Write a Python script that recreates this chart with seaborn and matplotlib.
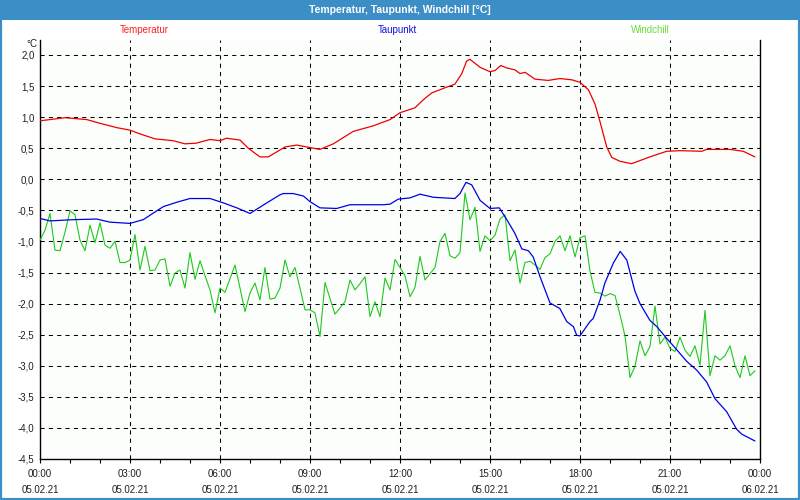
import numpy as np
import pandas as pd
import matplotlib
matplotlib.use("Agg")
import matplotlib.pyplot as plt
import seaborn as sns
from matplotlib.patches import Rectangle
from matplotlib.ticker import MultipleLocator, FixedLocator, FuncFormatter

# ---------------- data ----------------
title = "Temperatur, Taupunkt, Windchill [°C]"
series_names = ["Temperatur", "Taupunkt", "Windchill"]

temp_hours = [0.0, 0.83, 1.56, 2.0, 2.56, 3.0, 3.33, 3.83, 4.44, 4.83, 5.2, 5.67, 6.0, 6.22,
              6.67, 6.94, 7.33, 7.61, 8.17, 8.56, 9.0, 9.33, 9.78, 10.44, 11.11, 11.67, 12.0,
              12.5, 12.78, 13.06, 13.44, 13.83, 14.06, 14.22, 14.33, 14.67, 15.0, 15.17, 15.36,
              15.56, 15.83, 16.0, 16.17, 16.5, 16.94, 17.33, 17.72, 18.0, 18.28, 18.5, 18.67,
              18.89, 19.06, 19.33, 19.72, 20.33, 20.89, 21.33, 22.06, 22.22, 23.0, 23.44, 23.83]
temp_values = [0.94, 0.99, 0.96, 0.90, 0.83, 0.79, 0.73, 0.65, 0.62, 0.57, 0.58, 0.64, 0.62, 0.66,
               0.63, 0.50, 0.36, 0.36, 0.52, 0.55, 0.51, 0.48, 0.57, 0.77, 0.86, 0.96, 1.07,
               1.15, 1.28, 1.39, 1.46, 1.53, 1.70, 1.90, 1.93, 1.80, 1.73, 1.75, 1.83,
               1.79, 1.76, 1.70, 1.72, 1.61, 1.59, 1.62, 1.60, 1.56, 1.44, 1.21, 0.92,
               0.52, 0.35, 0.29, 0.25, 0.36, 0.45, 0.46, 0.45, 0.48, 0.48, 0.45, 0.36]

dew_hours = [0.0, 0.33, 1.11, 1.89, 2.33, 3.0, 3.44, 4.11, 4.56, 5.0, 5.67, 6.11, 6.56, 7.0,
             7.56, 8.0, 8.11, 8.44, 8.78, 9.0, 9.33, 9.89, 10.33, 11.44, 11.67, 11.94, 12.33,
             12.67, 13.11, 13.83, 14.0, 14.2, 14.39, 14.67, 15.0, 15.31, 15.56, 15.83, 16.06,
             16.28, 16.44, 16.67, 17.0, 17.33, 17.56, 17.78, 17.89, 18.0, 18.33, 18.44, 18.67,
             18.83, 19.11, 19.34, 19.56, 19.83, 20.0, 20.33, 20.56, 20.89, 21.22, 21.56, 21.89,
             22.22, 22.5, 22.89, 23.22, 23.39, 23.83]
dew_values = [-0.63, -0.67, -0.65, -0.64, -0.69, -0.71, -0.65, -0.44, -0.37, -0.31, -0.31, -0.38,
              -0.46, -0.55, -0.38, -0.25, -0.23, -0.23, -0.27, -0.36, -0.46, -0.47, -0.41, -0.41,
              -0.40, -0.32, -0.30, -0.24, -0.29, -0.31, -0.23, -0.05, -0.09, -0.34, -0.47, -0.46,
              -0.65, -0.87, -1.12, -1.15, -1.25, -1.57, -1.99, -2.08, -2.29, -2.37, -2.51, -2.52,
              -2.29, -2.24, -1.94, -1.67, -1.35, -1.16, -1.30, -1.80, -2.00, -2.27, -2.37, -2.56,
              -2.74, -2.93, -3.07, -3.26, -3.53, -3.74, -4.02, -4.10, -4.21]

# windchill, sampled every 10 minutes from 00:00
wind_values = [-0.98, -0.82, -0.55, -1.14, -1.15, -0.85, -0.51, -0.57, -0.98, -1.15, -0.74, -1.02,
               -0.70, -1.06, -1.11, -1.00, -1.34, -1.34, -1.30, -0.89, -1.46, -1.08, -1.47, -1.46,
               -1.30, -1.28, -1.72, -1.51, -1.46, -1.75, -1.18, -1.61, -1.31, -1.55, -1.78, -2.15,
               -1.75, -1.82, -1.60, -1.38, -1.75, -2.13, -1.83, -1.67, -1.94, -1.42, -1.93, -1.91,
               -1.75, -1.30, -1.57, -1.42, -1.75, -2.10, -2.10, -2.15, -2.53, -1.66, -1.92, -2.17,
               -2.07, -1.97, -1.62, -1.78, -1.68, -1.57, -2.21, -1.97, -2.21, -1.59, -1.78, -1.29,
               -1.42, -1.55, -1.89, -1.74, -1.24, -1.62, -1.52, -1.42, -1.00, -0.87, -1.23, -1.27,
               -1.18, -0.22, -0.65, -0.45, -1.16, -0.91, -0.99, -0.90, -0.64, -0.57, -1.31, -1.14,
               -1.67, -1.34, -1.32, -1.38, -1.45, -1.26, -1.20, -1.00, -0.91, -1.15, -0.91, -1.25,
               -0.94, -0.91, -1.48, -1.82, -1.83, -1.88, -1.84, -1.87, -2.18, -2.52, -3.19, -3.01,
               -2.60, -2.84, -2.69, -2.04, -2.65, -2.54, -2.72, -2.77, -2.54, -2.75, -2.85, -2.68,
               -2.99, -2.11, -3.16, -2.84, -2.91, -2.84, -2.68, -3.00, -3.19, -2.84, -3.16, -3.08]
wind_hours = list(np.arange(len(wind_values)) / 6.0)

x_tick_hours = [0, 3, 6, 9, 12, 15, 18, 21, 24]
x_tick_labels = ["00:00\n05.02.21", "03:00\n05.02.21", "06:00\n05.02.21", "09:00\n05.02.21",
                 "12:00\n05.02.21", "15:00\n05.02.21", "18:00\n05.02.21", "21:00\n05.02.21",
                 "00:00\n06.02.21"]
y_ticks = [-4.5, -4.0, -3.5, -3.0, -2.5, -2.0, -1.5, -1.0, -0.5, 0.0, 0.5, 1.0, 1.5, 2.0]

# ---------------- style ----------------
sns.set_style("white")
plt.rcParams['font.family'] = ['Liberation Sans', 'DejaVu Sans']

frame_blue = '#3c8fc6'
red = '#ee0000'
blue = '#0000e6'
green = '#1ec81e'
green_text = '#66e033'

fig = plt.figure(figsize=(8, 5), dpi=100)
fig.patch.set_facecolor('white')
ax = fig.add_axes([40 / 800, 41 / 500, 720 / 800, 419 / 500])
ax.set_facecolor('#fcfefc')

df_t = pd.DataFrame({'h': temp_hours, 'v': temp_values})
df_d = pd.DataFrame({'h': dew_hours, 'v': dew_values})
df_w = pd.DataFrame({'h': wind_hours, 'v': wind_values})

sns.lineplot(data=df_w, x='h', y='v', ax=ax, color=green, linewidth=0.8, zorder=3)
sns.lineplot(data=df_d, x='h', y='v', ax=ax, color=blue, linewidth=0.9, zorder=4)
sns.lineplot(data=df_t, x='h', y='v', ax=ax, color=red, linewidth=0.9, zorder=5)

ax.set_xlim(0, 24)
ax.set_ylim(-4.5, 2.24)
ax.set_xlabel('')
ax.set_ylabel('')

ax.xaxis.set_major_locator(FixedLocator(x_tick_hours))
ax.set_xticklabels(x_tick_labels, fontsize=7, linespacing=1.75)
ax.xaxis.set_minor_locator(MultipleLocator(1))
ax.set_yticks(y_ticks)
ax.yaxis.set_major_formatter(FuncFormatter(lambda v, p: f"{v:.1f}".replace('.', ',')))

ax.tick_params(axis='x', which='both', direction='out', length=3, width=0.8,
               color='black', bottom=True, pad=4, labelcolor='#202020')
ax.tick_params(axis='y', which='both', length=0, pad=4, labelsize=7, labelcolor='#202020')

ax.grid(True, which='major', color='black', linestyle=(0, (4, 4)), linewidth=0.75)
ax.set_axisbelow(True)

for side in ['left', 'right', 'bottom']:
    ax.spines[side].set_visible(True)
    ax.spines[side].set_color('black')
    ax.spines[side].set_linewidth(1.0)
ax.spines['top'].set_visible(False)

# title bar and frame
fig.patches.append(Rectangle((0, 1 - 20 / 500), 1, 20 / 500, transform=fig.transFigure,
                             facecolor=frame_blue, edgecolor='none', zorder=0))
fig.patches.append(Rectangle((0, 0), 1, 1, transform=fig.transFigure, fill=False,
                             edgecolor=frame_blue, linewidth=3, zorder=10))
fig.text(0.5, 1 - 10 / 500, title, color='white', fontsize=7.5, fontweight='bold',
         ha='center', va='center')

# series labels
fig.text(144 / 800, 1 - 30 / 500, series_names[0], color='#ff2020', fontsize=7, ha='center', va='center')
fig.text(397 / 800, 1 - 30 / 500, series_names[1], color='#1010e0', fontsize=7, ha='center', va='center')
fig.text(650 / 800, 1 - 30 / 500, series_names[2], color=green_text, fontsize=7, ha='center', va='center')
fig.text(32 / 800, 1 - 44 / 500, "°C", color='#202020', fontsize=7, ha='center', va='center')

fig.savefig("out.png", dpi=100)
